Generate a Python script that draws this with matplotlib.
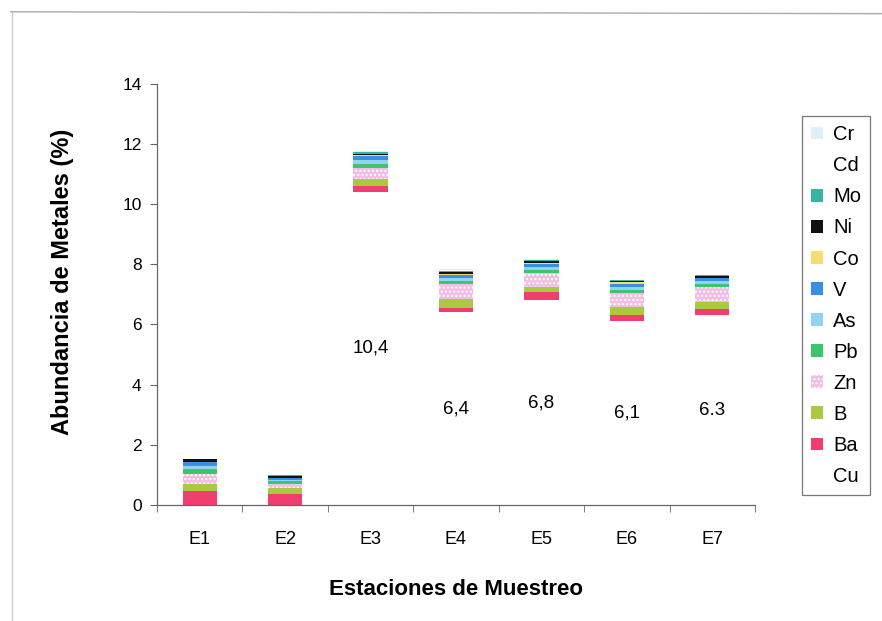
import numpy as np
import matplotlib.pyplot as plt
from matplotlib.patches import Patch
from matplotlib.lines import Line2D

plt.rcParams['font.family'] = ['Liberation Sans', 'DejaVu Sans']

estaciones = ['E1', 'E2', 'E3', 'E4', 'E5', 'E6', 'E7']

# stacked from the bottom up
metales = ['Cu', 'Ba', 'B', 'Zn', 'Pb', 'As', 'V', 'Co', 'Ni', 'Mo', 'Cd', 'Cr']
Cu = [0.0, 0.0, 10.4, 6.4, 6.8, 6.1, 6.3]
Ba = [0.45, 0.35, 0.20, 0.15, 0.27, 0.22, 0.20]
B = [0.25, 0.20, 0.25, 0.30, 0.18, 0.25, 0.25]
Zn = [0.33, 0.15, 0.35, 0.50, 0.47, 0.49, 0.50]
Pb = [0.15, 0.08, 0.12, 0.10, 0.10, 0.10, 0.08]
As = [0.10, 0.06, 0.15, 0.10, 0.10, 0.10, 0.10]
V = [0.13, 0.06, 0.12, 0.10, 0.10, 0.10, 0.10]
Co = [0.02, 0.01, 0.03, 0.02, 0.02, 0.04, 0.02]
Ni = [0.08, 0.05, 0.06, 0.08, 0.06, 0.05, 0.06]
Mo = [0.03, 0.02, 0.04, 0.04, 0.03, 0.02, 0.02]
Cd = [0.01, 0.01, 0.02, 0.02, 0.01, 0.01, 0.01]
Cr = [0.02, 0.01, 0.02, 0.02, 0.02, 0.01, 0.01]

etiquetas_cu = ['', '', '10,4', '6,4', '6,8', '6,1', '6.3']

series = [Cu, Ba, B, Zn, Pb, As, V, Co, Ni, Mo, Cd, Cr]
colores = ['white', '#f23d6f', '#a9c93f', '#f2bde4', '#3cc56c', '#93d2f0',
           '#3b8ee6', '#f6dc72', '#111111', '#36b5a2', 'white', '#deeffc']
tramas = ['', '', '', '....', '', '', '', '', '', '', '', '']

fig = plt.figure(figsize=(8.82, 6.21), dpi=100)
ax = fig.add_axes([0.178, 0.187, 0.678, 0.678])

x = np.arange(len(estaciones))
base = np.zeros(len(estaciones))
for nombre, vals, col, tr in zip(metales, series, colores, tramas):
    vals = np.array(vals)
    ax.bar(x, vals, width=0.4, bottom=base, color=col, hatch=tr,
           edgecolor='white' if tr else col, linewidth=0, label=nombre)
    base = base + vals

# Cu values written in the middle of the white segment
for xi, v, txt in zip(x, Cu, etiquetas_cu):
    if txt:
        ax.text(xi, v / 2, txt, ha='center', va='center', fontsize=13.5)

ax.set_xlim(-0.5, 6.5)
ax.set_ylim(0, 14)
ax.set_yticks(np.arange(0, 15, 2))
ax.set_xticks(x)
ax.set_xticklabels(estaciones)
ax.set_xticks(np.arange(-0.5, 7, 1), minor=True)
ax.tick_params(axis='x', which='major', length=0, pad=19, labelsize=13)
ax.tick_params(axis='x', which='minor', length=5, direction='out', color='#666666')
ax.tick_params(axis='y', length=5, direction='out', color='#666666', labelsize=12.5, pad=6)

for s in ['top', 'right']:
    ax.spines[s].set_visible(False)
for s in ['left', 'bottom']:
    ax.spines[s].set_color('#666666')
    ax.spines[s].set_linewidth(0.9)

ax.set_xlabel('Estaciones de Muestreo', fontsize=16, fontweight='bold', labelpad=22)
ax.set_ylabel('Abundancia de Metales (%)', fontsize=17, fontweight='bold')
ax.yaxis.set_label_coords(-0.138, 0.53)

# legend in reverse stacking order, Cr on top
handles = []
for nombre, col, tr in zip(metales, colores, tramas):
    handles.append(Patch(facecolor=col, hatch=tr, edgecolor='white' if tr else col,
                         linewidth=0, label=nombre))
handles = handles[::-1]
leg = fig.legend(handles=handles, loc='upper left', bbox_to_anchor=(0.909, 0.813),
                 fontsize=14.5, frameon=True, fancybox=False, framealpha=1,
                 edgecolor='#777777', handlelength=0.6, handleheight=0.6,
                 handletextpad=0.5, labelspacing=0.6, borderpad=0.45,
                 borderaxespad=0)
leg.get_frame().set_linewidth(0.9)

# outer chart frame
fig.add_artist(Line2D([0.012, 1.0], [0.981, 0.978], color='#aaaaaa', lw=1))
fig.add_artist(Line2D([0.014, 0.014], [0.981, 0.0], color='#cccccc', lw=1))

fig.savefig('out.png', dpi=100)
